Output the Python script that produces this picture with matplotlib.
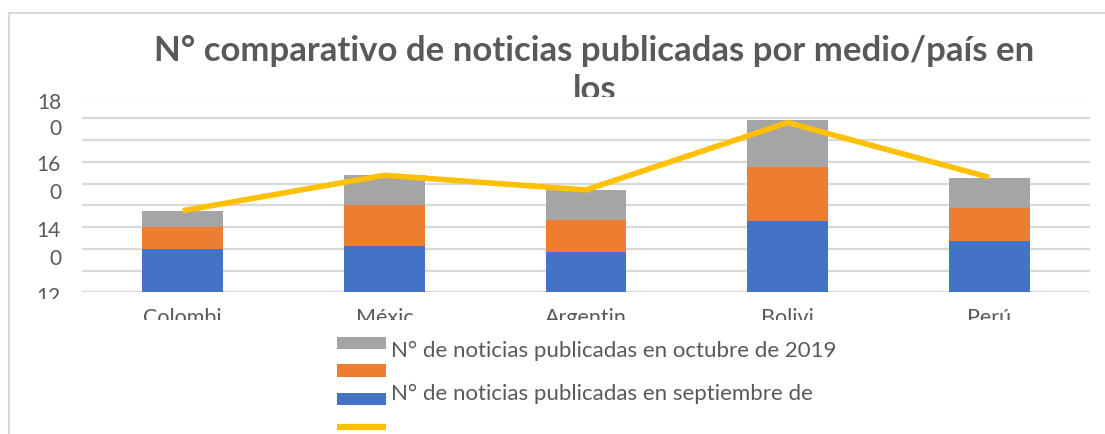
import matplotlib
matplotlib.use("Agg")
import matplotlib.pyplot as plt
from matplotlib.patches import Rectangle
from matplotlib.lines import Line2D
from matplotlib.transforms import Bbox
import numpy as np

# data (one gridline = 20 units)
paises = ["Colombi", "Méxic", "Argentin", "Bolivi", "Perú"]
septiembre = [39.8, 42.6, 37.1, 65.8, 47.2]
sin_nombre = [20.2, 37.7, 29.4, 49.4, 30.6]
octubre = [14.8, 27.6, 27.6, 43.2, 27.3]
total = [75.0, 107.6, 94.1, 156.0, 105.7]

y_labels = ["18", "0", "16", "0", "14", "0", "12"]
y_label_px = [109, 135, 171, 199, 237, 265, 303]   # baselines, px from top

titulo = "N° comparativo de noticias publicadas por medio/país en"
titulo_2 = "los"
leyenda = ["N° de noticias publicadas en octubre de 2019",
           "",
           "N° de noticias publicadas en septiembre de",
           "N° de noticias publicadas en total"]

AZUL = "#4472C4"
NARANJA = "#ED7D31"
GRIS = "#A5A5A5"
AMARILLO = "#FFC000"
TEXTO = "#595959"
REJILLA = "#D9D9D9"

W, H = 1105, 434
plt.rcParams["font.family"] = ["Lato", "DejaVu Sans"]

fig = plt.figure(figsize=(W / 100, H / 100), dpi=100)


def fx(px):
    return px / W


def fy(py):
    return 1 - py / H


def clip_box(top_px):
    # keep only what lies above a given pixel row (counted from the top)
    return Bbox.from_extents(0, H - top_px, W, H)


# outer chart border (only left and top are visible)
fig.add_artist(Line2D([fx(9), fx(9)], [fy(12.5), 0], color=REJILLA, lw=1.5))
fig.add_artist(Line2D([fx(9), 1], [fy(12.5), fy(12.5)], color=REJILLA, lw=1.5))

ax = fig.add_axes([fx(82), fy(292.3), fx(1090) - fx(82), fy(96.5) - fy(292.3)])
x = np.arange(len(paises))
w = 0.4
sep = np.array(septiembre)
mid = np.array(sin_nombre)
octb = np.array(octubre)

ax.bar(x, sep, w, color=AZUL, zorder=2)
ax.bar(x, mid, w, bottom=sep, color=NARANJA, zorder=2)
ax.bar(x, octb, w, bottom=sep + mid, color=GRIS, zorder=2)
ax.plot(x, total, color=AMARILLO, lw=4, zorder=3, solid_capstyle="butt")

ax.set_xlim(-0.5, len(paises) - 0.5)
ax.set_ylim(0, 180)
ax.set_yticks(np.arange(0, 181, 20))
ax.grid(axis="y", color=REJILLA, lw=1.6, zorder=0)
ax.tick_params(length=0, labelleft=False, labelbottom=False)
for s in ax.spines.values():
    s.set_visible(False)

# title (second line cut by the plot area)
fig.text(fx(594), fy(61), titulo, ha="center", va="baseline",
         fontsize=25, fontweight="bold", color=TEXTO)
t2 = fig.text(fx(595), fy(100), titulo_2, ha="center", va="baseline",
              fontsize=25, fontweight="bold", color=TEXTO)
t2.set_clip_box(clip_box(97))
t2.set_clip_on(True)

# y labels, wrapped and cut like in the original
for lab, py in zip(y_labels, y_label_px):
    t = fig.text(fx(61), fy(py), lab, ha="right", va="baseline",
                 fontsize=15, color=TEXTO)
    t.set_clip_box(clip_box(299))
    t.set_clip_on(True)

# category labels, cut at the bottom
for xi, lab in zip(x, paises):
    px = 82 + (xi + 0.5) * (1008 / len(paises))
    t = fig.text(fx(px), fy(323.5), lab, ha="center", va="baseline",
                 fontsize=15.5, color=TEXTO)
    t.set_clip_box(clip_box(320))
    t.set_clip_on(True)

# legend drawn by hand
swatches = [(GRIS, 337, 349), (NARANJA, 364, 377), (AZUL, 393, 405)]
for col, top, bot in swatches:
    fig.add_artist(Rectangle((fx(337), fy(bot)), fx(386) - fx(337),
                             fy(top) - fy(bot), color=col, lw=0))
fig.add_artist(Line2D([fx(337), fx(386)], [fy(427), fy(427)],
                      color=AMARILLO, lw=4.5, solid_capstyle="butt"))

for lab, py in zip(leyenda, [357, 384, 400, 452]):
    if lab:
        fig.text(fx(391), fy(py), lab, ha="left", va="baseline",
                 fontsize=16, color=TEXTO)

fig.savefig("out.png", dpi=100)
